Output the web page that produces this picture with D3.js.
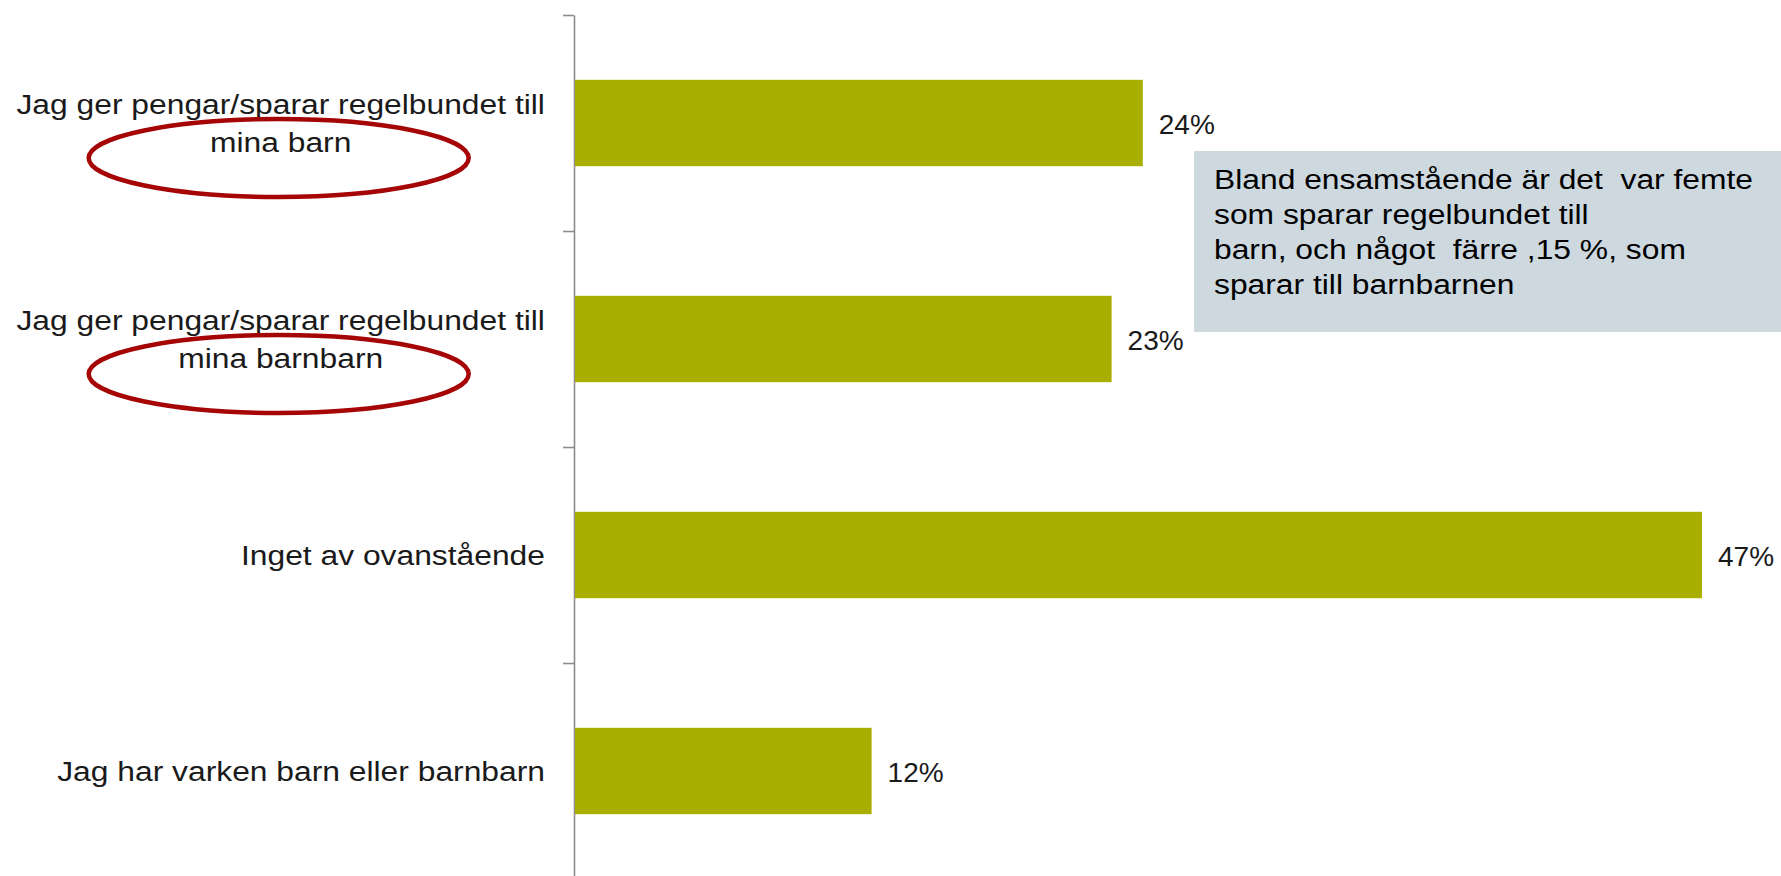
<!DOCTYPE html>
<html>
<head>
<meta charset="utf-8">
<script src="https://cdn.jsdelivr.net/npm/d3@7/dist/d3.min.js"></script>
<style>
  html, body { margin: 0; padding: 0; background: #fff; }
  svg { display: block; }
  text { font-family: Arial, "Liberation Sans", sans-serif; fill: #1a1a1a; }
</style>
</head>
<body>
<svg id="chart" width="1781" height="876"></svg>
<script>
// ---- data ----
const categories = [
  ["Jag ger pengar/sparar regelbundet till", "mina barn"],
  ["Jag ger pengar/sparar regelbundet till", "mina barnbarn"],
  ["Inget av ovanstående"],
  ["Jag har varken barn eller barnbarn"]
];
const values = [0.237, 0.224, 0.47, 0.124];
const valueLabels = ["24%", "23%", "47%", "12%"];
const highlighted = [true, true, false, false];
const noteLines = [
  "Bland ensamstående är det  var femte",
  "som sparar regelbundet till",
  "barn, och något  färre ,15 %, som",
  "sparar till barnbarnen"
];

// ---- layout ----
const W = 1781, H = 876;
const axisX = 574, plotTop = 15, plotBottom = 879;
const sx = 1781 / 1568; // horizontal stretch of the reference
const fontSize = 28;
const barColor = "#A8AF00";

const svg = d3.select("#chart");

const idx = d3.range(categories.length);
const y = d3.scaleBand().domain(idx).range([plotTop, plotBottom])
  .paddingInner(0.6).paddingOuter(0.3);
const x = d3.scaleLinear().domain([0, 0.5]).range([axisX, 1774]);
const yTicks = d3.scaleLinear().domain([0, categories.length]).range([plotTop, plotBottom]);

// axis
const axis = d3.axisLeft(yTicks)
  .tickValues(d3.range(categories.length + 1))
  .tickFormat("")
  .tickSize(11)
  .tickSizeOuter(0);
const gAxis = svg.append("g").attr("transform", `translate(${axisX},0)`).call(axis);
gAxis.selectAll("path, line").attr("stroke", "#8c8c8c").attr("stroke-width", 1.6);

// bars
svg.append("g").selectAll("rect").data(idx).join("rect")
  .attr("x", x(0) + 1)
  .attr("y", i => y(i))
  .attr("width", i => x(values[i]) - x(0) - 1)
  .attr("height", y.bandwidth())
  .attr("fill", barColor);

// value labels
svg.append("g").selectAll("text").data(idx).join("text")
  .attr("x", i => x(values[i]) + 16)
  .attr("y", i => y(i) + y.bandwidth() / 2 + 11)
  .attr("font-size", fontSize)
  .text(i => valueLabels[i]);

// category labels (multi-line, centred block, right edge near axis)
const labelRight = 545;
const lineH = 38;
const gLab = svg.append("g");
idx.forEach(i => {
  const lines = categories[i];
  const cy = y(i) + y.bandwidth() / 2;
  const firstBase = cy + 10 - (lines.length - 1) * lineH / 2;
  const tmp = gLab.append("text").attr("font-size", fontSize);
  let maxW = 0;
  lines.forEach(l => { tmp.text(l); maxW = Math.max(maxW, tmp.node().getComputedTextLength()); });
  tmp.remove();
  const cx = labelRight - maxW * sx / 2;
  lines.forEach((l, k) => {
    gLab.append("text")
      .attr("font-size", fontSize)
      .attr("text-anchor", lines.length > 1 ? "middle" : "end")
      .attr("transform", lines.length > 1
        ? `translate(${cx},${firstBase + k * lineH}) scale(${sx},1)`
        : `translate(${labelRight},${firstBase + k * lineH}) scale(${sx},1)`)
      .text(l);
  });
  if (highlighted[i]) {
    gLab.append("ellipse")
      .attr("cx", cx - 2)
      .attr("cy", cy + 35)
      .attr("rx", 190)
      .attr("ry", 39)
      .attr("fill", "none")
      .attr("stroke", "#A50505")
      .attr("stroke-width", 4.5);
  }
});

// annotation box
const note = svg.append("g");
note.append("rect")
  .attr("x", 1194).attr("y", 151)
  .attr("width", W - 1194).attr("height", 181)
  .attr("fill", "#CDD8DF");
note.selectAll("text").data(noteLines).join("text")
  .attr("transform", (d, k) => `translate(1214,${189 + k * 35}) scale(${sx},1)`)
  .attr("font-size", fontSize)
  .attr("xml:space", "preserve")
  .style("white-space", "pre")
  .style("fill", "#000")
  .text(d => d);
</script>
</body>
</html>
